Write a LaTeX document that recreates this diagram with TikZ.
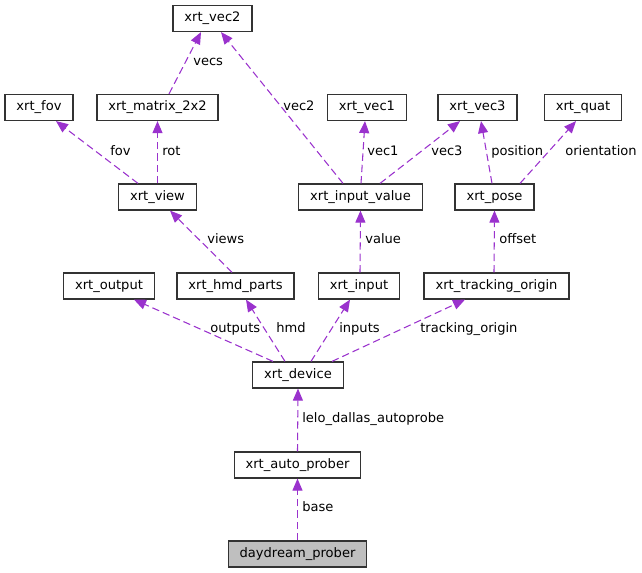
\documentclass[tikz,border=0pt]{standalone}
\usepackage{fontspec}
\setmainfont{DejaVu Sans}
\usetikzlibrary{arrows.meta}
\definecolor{edgecol}{HTML}{9A32CD}

\begin{document}
\begin{tikzpicture}[x=0.75pt, y=-0.75pt,
  box/.style={draw=black!80, line width=0.9pt, inner xsep=8.6pt, inner ysep=0pt,
    minimum height=19.5pt, text height=7.2pt, text depth=2.4pt,
    font=\fontsize{9.8}{11}\selectfont},
  lbl/.style={anchor=west, inner sep=0pt, text height=7.2pt, text depth=2.2pt,
    font=\fontsize{9.8}{11}\selectfont},
  rel/.style={edgecol, line width=0.8pt, dash pattern=on 5.5pt off 3pt,
    -{Triangle[length=9pt,width=7.5pt]}}]

\useasboundingbox (0,0) rectangle (642,573);

% classes
\node[box] (vec2) at (212.5,18.5) {xrt\_vec2};
\node[box] (fov) at (39,107.5) {xrt\_fov};
\node[box] (mat) at (157.5,107.5) {xrt\_matrix\_2x2};
\node[box] (vec1) at (367,107.5) {xrt\_vec1};
\node[box] (vec3) at (477.5,107.5) {xrt\_vec3};
\node[box] (quat) at (583,107.5) {xrt\_quat};
\node[box] (view) at (157.5,197) {xrt\_view};
\node[box] (inval) at (360.5,197) {xrt\_input\_value};
\node[box] (pose) at (494.5,197) {xrt\_pose};
\node[box] (output) at (109,286) {xrt\_output};
\node[box] (hmd) at (235.5,286) {xrt\_hmd\_parts};
\node[box] (input) at (359,286) {xrt\_input};
\node[box] (track) at (496.5,286) {xrt\_tracking\_origin};
\node[box] (device) at (298,375) {xrt\_device};
\node[box] (autop) at (297.5,465) {xrt\_auto\_prober};
\node[box, fill=black!25] (dayd) at (297.5,554) {daydream\_prober};

% members
\draw[rel] ([shift={(11.5,0)}]mat.north) -- ([shift={(-11.5,0)}]vec2.south);
\draw[rel] ([shift={(-17.5,0)}]inval.north) -- ([shift={(8.5,0)}]vec2.south);
\draw[rel] ([shift={(-19.5,0)}]view.north) -- ([shift={(17,0)}]fov.south);
\draw[rel] (view.north) -- (mat.south);
\draw[rel] ([shift={(-3.5,0)}]hmd.north) -- ([shift={(12.5,0)}]view.south);
\draw[rel] ([shift={(0.5,0)}]inval.north) -- ([shift={(-2,0)}]vec1.south);
\draw[rel] ([shift={(19.5,0)}]inval.north) -- ([shift={(-17.5,0)}]vec3.south);
\draw[rel] ([shift={(-2.5,0)}]pose.north) -- ([shift={(3.5,0)}]vec3.south);
\draw[rel] ([shift={(25.5,0)}]pose.north) -- ([shift={(-7,0)}]quat.south);
\draw[rel] ([shift={(1,0)}]input.north) -- (inval.south);
\draw[rel] ([shift={(-2.5,0)}]track.north) -- (pose.south);
\draw[rel] ([shift={(-25,0)}]device.north) -- ([shift={(25,0)}]output.south);
\draw[rel] ([shift={(-13,0)}]device.north) -- ([shift={(10.5,0)}]hmd.south);
\draw[rel] ([shift={(13,0)}]device.north) -- ([shift={(-9,0)}]input.south);
\draw[rel] ([shift={(34,0)}]device.north) -- ([shift={(-31.5,0)}]track.south);
\draw[rel] (autop.north) -- (device.south);
\draw[rel] (dayd.north) -- (autop.south);

% labels
\node[lbl] (lvecs) at (193,62) {vecs};
\node[lbl] (lvec2) at (283,107) {vec2};
\node[lbl] (lfov) at (110,152) {fov};
\node[lbl] (lrot) at (162,152) {rot};
\node[lbl] (lvec1) at (367,152) {vec1};
\node[lbl] (lvec3) at (431,152) {vec3};
\node[lbl] (lposition) at (491,152) {position};
\node[lbl] (lorient) at (565,152) {orientation};
\node[lbl] (lviews) at (207,240) {views};
\node[lbl] (lvalue) at (365,240) {value};
\node[lbl] (loffset) at (499,240) {offset};
\node[lbl] (loutputs) at (210,329) {outputs};
\node[lbl] (lhmd) at (276,329) {hmd};
\node[lbl] (linputs) at (339,329) {inputs};
\node[lbl] (ltrack) at (420,329) {tracking\_origin};
\node[lbl] (lprobe) at (302,419) {lelo\_dallas\_autoprobe};
\node[lbl] (lbase) at (302,508) {base};

\end{tikzpicture}
\end{document}
